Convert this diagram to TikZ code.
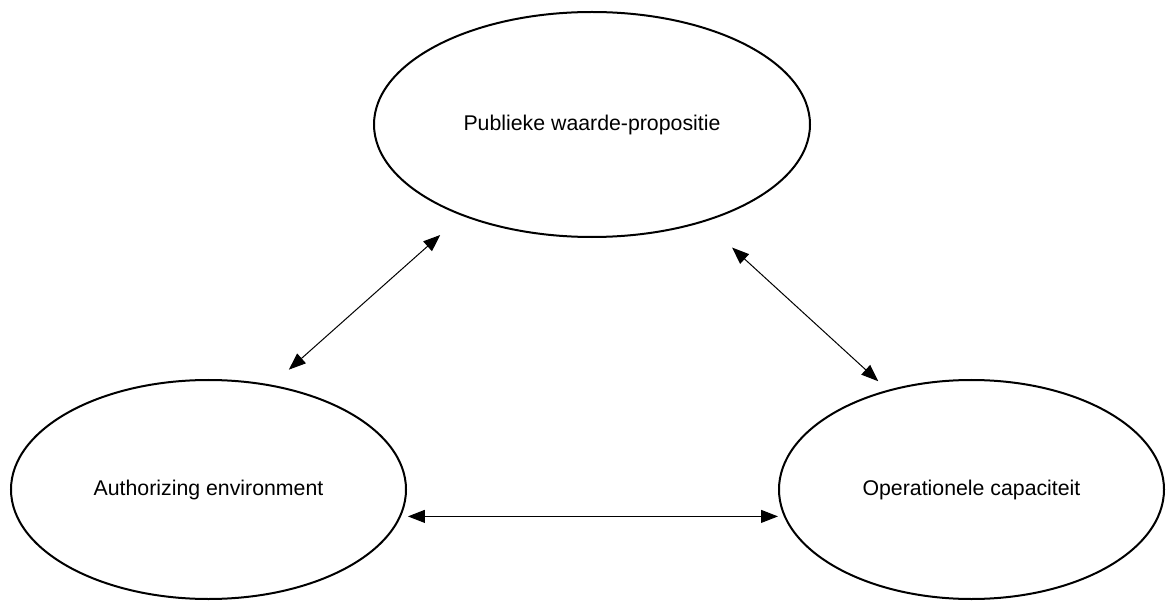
\documentclass[tikz,border=0pt]{standalone}
\usepackage{fontspec}
\setmainfont{Liberation Sans}
\usetikzlibrary{arrows.meta,shapes.geometric}
\begin{document}
\begin{tikzpicture}[x=1bp,y=-1bp,
  bubble/.style={draw, ellipse, line width=2bp, inner sep=0pt, outer sep=0pt,
    font=\fontsize{21.3bp}{25bp}\selectfont},
  link/.style={line width=1bp,
    {Triangle[length=17bp,width=13bp]}-{Triangle[length=17bp,width=13bp]}}]
\useasboundingbox (0,0) rectangle (1166,601);

% the three ellipses
\node[bubble, minimum width=436bp, minimum height=225bp] (T) at (592,124.5)
  {Publieke waarde-propositie};
\node[bubble, minimum width=395bp, minimum height=219bp] (L) at (208.5,489.5)
  {Authorizing environment};
\node[bubble, minimum width=385bp, minimum height=219bp] (R) at (971.5,489.5)
  {Operationele capaciteit};

% two-way connectors
\draw[link, shorten <=24bp, shorten >=30bp] (L.59.4) -- (T.-145.9);
\draw[link, shorten <=39bp, shorten >=14bp] (T.-41.9) -- (R.130.3);
\draw[link, shorten <=8bp, shorten >=1bp] (L.-8.8) -- (L.-8.8 -| R.west);
\end{tikzpicture}
\end{document}
